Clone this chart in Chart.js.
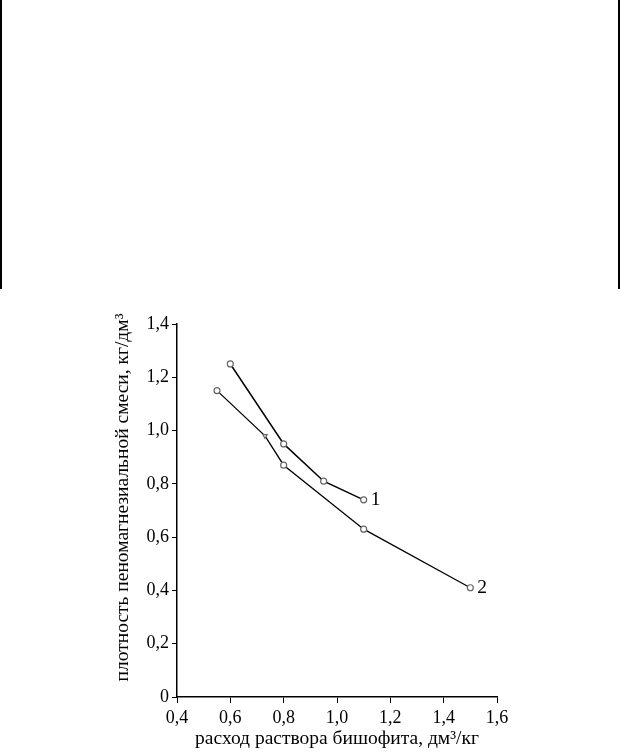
<!DOCTYPE html>
<html>
<head>
<meta charset="utf-8">
<script src="https://cdn.jsdelivr.net/npm/chart.js@4.4.0/dist/chart.umd.min.js"></script>
<style>
  html,body{margin:0;padding:0;background:#fff;}
  body{width:620px;height:753px;position:relative;overflow:hidden;}
  #frame{position:absolute;left:0;top:0;width:616px;height:289px;border-left:2px solid #000;border-right:2px solid #000;}
  #wrap{position:absolute;left:0;top:290px;width:620px;height:463px;}
</style>
</head>
<body>
<div id="frame"></div>
<div id="wrap"><canvas id="chart"></canvas></div>
<script>
// curve 1
const x1 = [0.6, 0.8, 0.95, 1.1];
const y1 = [1.25, 0.95, 0.81, 0.74];
// curve 2
const x2 = [0.55, 0.73, 0.8, 1.1, 1.5];
const y2 = [1.15, 0.98, 0.87, 0.63, 0.41];

const xTicks = [0.4, 0.6, 0.8, 1.0, 1.2, 1.4, 1.6];
const yTicks = [0, 0.2, 0.4, 0.6, 0.8, 1.0, 1.2, 1.4];

const seriesNames = ['1', '2'];
const xTitle = 'расход раствора бишофита, дм³/кг';
const yTitle = 'плотность пеномагнезиальной смеси, кг/дм³';

const fontFam = '"Liberation Serif","Times New Roman",serif';
const fmt = v => v === 0 ? '0' : v.toFixed(1).replace('.', ',');

const toPts = (xs, ys) => xs.map((x, i) => ({x: x, y: ys[i]}));

// "1" / "2" next to the last point of each curve, plus the rotated y title
const extras = {
  id: 'extras',
  afterDatasetsDraw(chart) {
    const ctx = chart.ctx;
    const ca = chart.chartArea;
    ctx.save();
    ctx.font = '19.5px ' + fontFam;
    ctx.fillStyle = '#000';
    ctx.textBaseline = 'middle';
    chart.data.datasets.forEach((ds, i) => {
      const pts = chart.getDatasetMeta(i).data;
      const last = pts[pts.length - 1];
      ctx.fillText(ds.label, last.x + 7, last.y);
    });
    ctx.translate(ca.left - 54, (ca.top + ca.bottom) / 2 - 13);
    ctx.rotate(-Math.PI / 2);
    ctx.textAlign = 'center';
    ctx.fillText(yTitle, 0, 0);
    ctx.restore();
  }
};

new Chart(document.getElementById('chart'), {
  type: 'scatter',
  data: {
    datasets: [
      {
        label: seriesNames[0],
        data: toPts(x1, y1),
        showLine: true,
        borderColor: '#000',
        borderWidth: 1.5,
        pointRadius: 3,
        pointBorderColor: '#666',
        pointBackgroundColor: '#fff',
        pointBorderWidth: 1.2
      },
      {
        label: seriesNames[1],
        data: toPts(x2, y2),
        showLine: true,
        borderColor: '#000',
        borderWidth: 1.3,
        pointStyle: ['circle', 'triangle', 'circle', 'circle', 'circle'],
        pointRotation: [0, 180, 0, 0, 0],
        pointRadius: [3, 2.5, 3, 3, 3],
        pointBorderColor: '#666',
        pointBackgroundColor: '#fff',
        pointBorderWidth: 1.2
      }
    ]
  },
  options: {
    responsive: true,
    maintainAspectRatio: false,
    animation: false,
    events: [],
    layout: {padding: {top: 34, right: 123, bottom: 0, left: 0}},
    plugins: {legend: {display: false}, tooltip: {enabled: false}},
    scales: {
      x: {
        type: 'linear',
        min: 0.4, max: 1.6,
        afterFit: s => { s.height = 56; },
        afterBuildTicks: s => { s.ticks = xTicks.map(v => ({value: v})); },
        border: {display: true, color: '#000', width: 1.5},
        grid: {display: true, drawOnChartArea: false, drawTicks: true, tickLength: 6, color: '#000', lineWidth: 1},
        ticks: {color: '#000', padding: 4, maxRotation: 0, font: {family: fontFam, size: 18}, callback: v => fmt(v)},
        title: {display: true, text: xTitle, color: '#000', font: {family: fontFam, size: 19.5}, padding: {top: 0, bottom: 2}}
      },
      y: {
        type: 'linear',
        min: 0, max: 1.4,
        afterFit: s => { s.width = 177; },
        afterBuildTicks: s => { s.ticks = yTicks.map(v => ({value: v})); },
        border: {display: true, color: '#000', width: 1.5},
        grid: {display: true, drawOnChartArea: false, drawTicks: true, tickLength: 5, color: '#000', lineWidth: 1},
        ticks: {color: '#000', padding: 3, font: {family: fontFam, size: 18}, callback: v => fmt(v)},
        title: {display: false}
      }
    }
  },
  plugins: [extras]
});
</script>
</body>
</html>
